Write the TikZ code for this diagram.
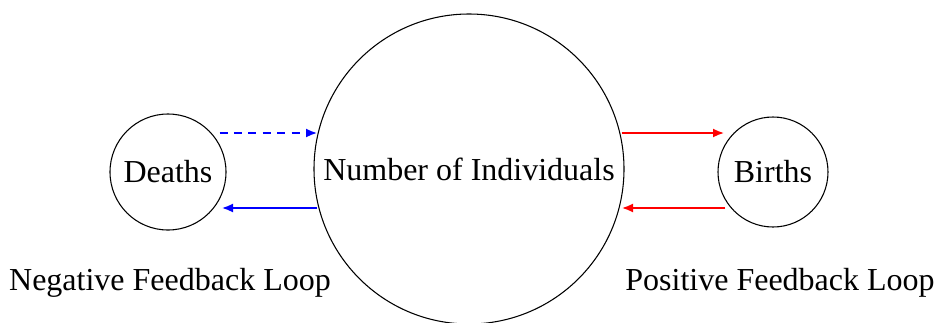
\documentclass[tikz,border=0pt]{standalone}
\usepackage{fontspec}
\setmainfont{Liberation Serif}
\usetikzlibrary{arrows.meta,calc}
\begin{document}
\begin{tikzpicture}[x=0.375pt,y=-0.375pt,
  every node/.style={font=\rmfamily\fontsize{12}{14}\selectfont},
  circ/.style={draw,circle,inner sep=0pt,line width=0.4pt},
  flow/.style={line width=0.9pt,-{Latex[length=4.3pt,width=3.4pt]}},
  lbl/.style={inner sep=0pt}]
\useasboundingbox (0,0) rectangle (936,322);
\node[circ,minimum size=116.25pt] (big) at (469,169) {Number of Individuals};
\node[circ,minimum size=43.5pt] (deaths) at (168,172) {Deaths};
\node[circ,minimum size=41.25pt] (births) at (773,172) {Births};
\node[lbl] (neg) at (170,283) {Negative Feedback Loop};
\node[lbl] (pos) at (780,283) {Positive Feedback Loop};
\coordinate (dtop) at ([shift={(-7,-39)}]deaths.east);
\coordinate (dbot) at ([shift={(-5,36)}]deaths.east);
\coordinate (btop) at ([shift={(7,-39)}]births.west);
\coordinate (bbot) at ([shift={(8,36)}]births.west);
\draw[flow,blue,dash pattern=on 3pt off 2.4pt] (dtop) -- ($(dtop -| big.west)+(4,0)$);
\draw[flow,blue] ($(dbot -| big.west)+(4,0)$) -- (dbot);
\draw[flow,red] ($(btop -| big.east)+(-3,0)$) -- (btop);
\draw[flow,red] (bbot) -- ($(bbot -| big.east)+(-3,0)$);
\end{tikzpicture}
\end{document}
